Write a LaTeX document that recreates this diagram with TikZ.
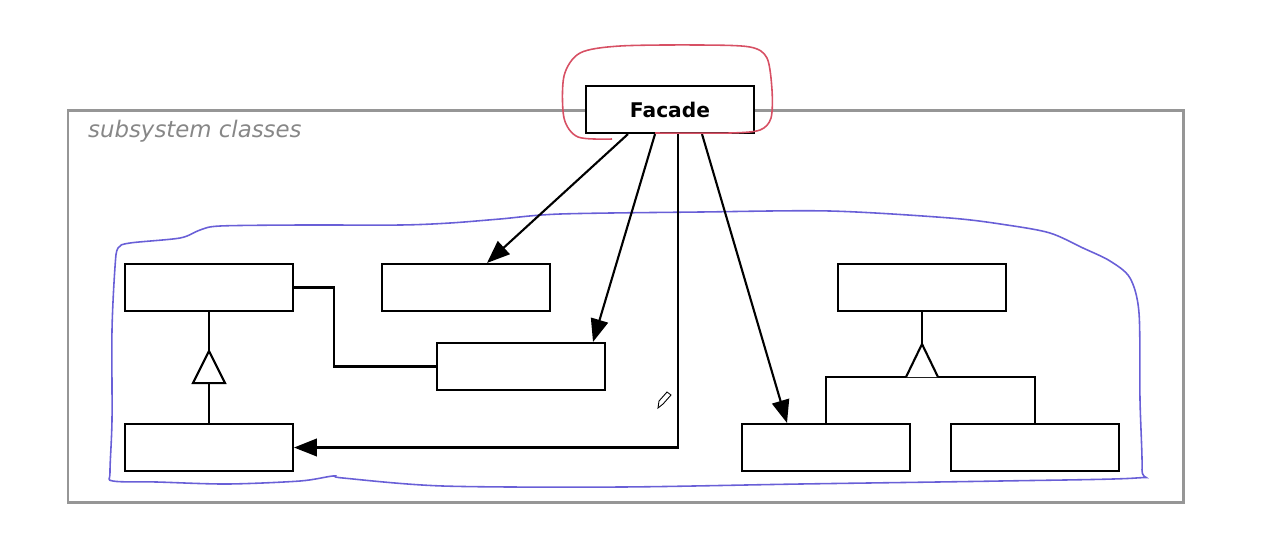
\documentclass[tikz,border=0pt]{standalone}
\usepackage{fontspec}
\setmainfont{DejaVu Sans}
\usepackage{xcolor}
\usetikzlibrary{arrows.meta,calc}

\definecolor{framegray}{RGB}{150,150,150}
\definecolor{labelgray}{RGB}{135,135,135}
\definecolor{loopred}{RGB}{215,80,100}
\definecolor{loopblue}{RGB}{105,95,215}

\tikzset{
  cls/.style={draw, fill=white, line width=1.2pt, minimum width=3.36cm,
    minimum height=0.94cm, inner sep=0pt},
  link/.style={line width=1.2pt},
  call/.style={line width=1.2pt, -{Triangle[length=13pt,width=10pt]}},
  isa/.style={line width=1.2pt, fill=white}
}

\begin{document}
\begin{tikzpicture}[x=0.02cm, y=-0.02cm]
  \useasboundingbox (0,0) rectangle (1263,549);
  % subsystem frame
  \draw[framegray, line width=1.7pt] (68,110) rectangle (1183,502);
  \node[anchor=west, text=labelgray, font=\fontsize{13}{15}\selectfont\itshape] (sublabel) at (82,131) {subsystem classes};
  % hand drawn loop round the subsystem
  \draw[loopblue, line width=0.9pt] plot[smooth cycle, tension=0.5] coordinates {
    (118,248) (130,243) (180,238) (200,230) (220,226) (300,225) (400,225)
    (450,223) (500,219) (560,214) (700,212) (830,211) (950,218) (1007,225)
    (1050,233) (1083,248) (1110,261) (1130,278) (1139,313) (1140,400)
    (1142,470) (1136,478) (1000,481) (800,484) (620,487) (443,486)
    (343,478) (333,476) (300,481) (227,484) (157,482) (113,481) (110,472)
    (112,420) (112,330) (115,267)};
  % classes
  \node[cls, font=\fontsize{11.5}{13}\selectfont\bfseries] (facade) at (670,109.5) {Facade};
  \foreach \n/\x/\y in {a/209/287.5, b/466/287.5, c/521/366.5, d/209/447.5,
                        e/922/287.5, f/826/447.5, g/1035/447.5} {
    \node[cls] (\n) at (\x,\y) {};
  }
  % associations
  \draw[link] (a.east) -- (334,287.5) |- (c.west);
  \draw[call] ($(facade.south)+(-42,0)$) -- ($(b.north)+(21,0)$);
  \draw[call] ($(facade.south)+(-15,0)$) -- ($(c.north)+(72,0)$);
  \draw[call] ($(facade.south)+(8,0)$) |- (d.east);
  \draw[call] ($(facade.south)+(32,0)$) -- ($(f.north)+(-39,0)$);
  % inheritance
  \draw[link] (d.north) -- (a.south);
  \draw[isa] ($(a.south)+(-16,71)$) -- ($(a.south)+(0,39)$) -- ($(a.south)+(16,71)$) -- cycle;
  \coordinate (fork) at ($(e.south)+(0,65)$);
  \draw[link] (e.south) -- ($(e.south)+(0,32)$);
  \draw[link] (f.north) |- (fork) -| (g.north);
  \draw[isa] ($(fork)+(-16,0)$) -- ($(e.south)+(0,32)$) -- ($(fork)+(16,0)$);
  % hand drawn loop round the facade
  \draw[loopred, line width=0.9pt] plot[smooth, tension=0.5] coordinates {
    (612,139) (578,137) (564,118) (564,76) (580,53) (620,46) (700,45)
    (750,47) (767,58) (772,90) (771,118) (760,130) (730,133) (655,133)};
  % pencil cursor
  \draw[line width=0.5pt, fill=white] (658,408) -- (659,401) -- (667,392) -- (671,395) -- (663,404) -- cycle;
\end{tikzpicture}
\end{document}
